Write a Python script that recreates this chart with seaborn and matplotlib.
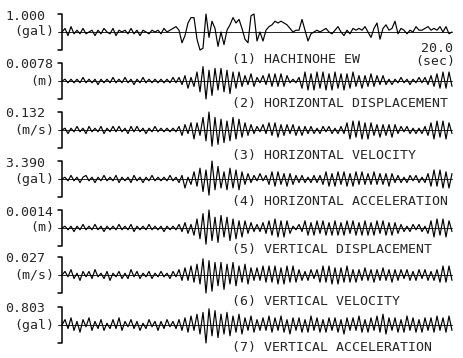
import numpy as np
import pandas as pd
import matplotlib
matplotlib.use("Agg")
import matplotlib.pyplot as plt
from matplotlib.lines import Line2D
import seaborn as sns

# ---------------- data (tenths of full scale, 131 samples over 20 s) ----------------
names = ["(1) HACHINOHE EW", "(2) HORIZONTAL DISPLACEMENT", "(3) HORIZONTAL VELOCITY",
         "(4) HORIZONTAL ACCELERATION", "(5) VERTICAL DISPLACEMENT", "(6) VERTICAL VELOCITY",
         "(7) VERTICAL ACCELERATION"]
scale_labels = ["1.000", "0.0078", "0.132", "3.390", "0.0014", "0.027", "0.803"]
unit_labels = ["(gal)", "(m)", "(m/s)", "(gal)", "(m)", "(m/s)", "(gal)"]
scales = [1.000, 0.0078, 0.132, 3.390, 0.0014, 0.027, 0.803]
duration = 20.0

hachinohe_ew = [0,2,-2,3,-1,1,-1,2,-1,0, 1,-2,1,-1,2,0,-1,2,-2,1, 0,1,-1,2,-1,1,-2,1,0,-1,
                1,0,1,-1,2,0,1,2,
                3,1,-6,-2,5,8,8,-4,-10,-9, 10,-3,6,2,-8,0,-7,1,4,8, 5,7,2,-4,-6,9,10,-5,0,-5,
                1,3,4,6,5,6,5,4,2,0, 1,1,7,1,-5,-1,0,1,0,1, 2,0,-1,1,3,0,-2,1,-1,2,
                1,2,1,3,0,-3,2,5,-4,2, 4,1,2,6,-1,2,1,-1,1,0, 3,1,1,2,3,1,2,1,3,0, 3,-1,0]
horiz_disp = [0,1,-1,1,-1,1,-1,2,-1,1, -1,1,-2,1,-1,1,-1,2,-1,1, -1,2,-1,1,-2,1,-1,2,-1,1,
              -1,1,-1,1,-1,1,-1,2,
              -1,2,-2,3,-4,2,-3,5,-6,8, -10,6,-8,7,-5,7,-6,6,-7,5, -4,5,-3,3,-2,4,-3,2,-1,3,
              -2,4,-3,
              4,-3,4,-3,3,-1,1,-1,2,-4, 5,-5,4,-5,5,-4,5,-5,4,-5, 5,-4,4,-5,4,-4,5,-3,3,-4,
              3,-3,4,-3,3,-2,3,-2,1,-2, 1,-1,2,-1,1,-2,1,-1,2,-1, 2,-2,3,-3,4,-4,5,-4,5,-3]
horiz_vel = [0,1,-2,1,-1,2,-1,1,-2,2, -1,1,-1,2,-2,1,-1,2,-1,2, -1,1,-2,2,-1,2,-1,1,-2,1,
             -1,2,-1,1,-1,1,-1,1,
             -1,2,-3,3,-2,4,-5,4,-3,7, -6,10,-9,7,-8,6,-7,5,-6,7, -5,6,-4,4,-3,3,-2,2,-1,3,
             -2,4,-3,
             4,-4,3,-3,3,-2,3,-3,2,-3, 2,-2,2,-2,1,-2,2,-1,2,-2, 1,-2,2,-2,
             4,-5,5,-4,5,-5,4,-5,4,
             -3,3,-4,3,-3,3,-4,3,-2,
             2,-1,2,-2,1,-2,1,-2,2,
             -3,4,-5,5,-4,5,-5,4,-2]
horiz_acc = [0,1,-1,2,-1,1,-2,1,2,-1, 1,-2,1,-1,2,-1,1,-1,2,-2, 1,-1,1,-2,2,-1,1,-2,1,-1,
             2,-1,1,-1,1,-1,2,-1,
             1,-2,2,-5,1,-3,4,-4,6,-7, 5,-9,10,-6,7,-5,4,-6,6,-5, 5,-6,4,-3,3,-2,2,-1,3,-1,
             2,-3,4,
             -4,4,-3,3,-4,3,-3,2,
             -2,2,-2,1,-2,2,-2,2,
             -3,4,-4,3,-4,4,-3,4,-4,3,-4,4,-3,4,-3,
             3,-3,4,-3,3,-3,3,-4,3,-2,
             2,-2,1,-2,2,-1,2,-2,1,-2,
             3,-4,5,-4,5,-5,4,-5,3]
vert_disp = [0,1,-1,1,-2,1,-1,2,-1,1, -1,2,-1,1,-2,1,-1,1,-1,2, -1,1,-1,2,-2,1,-1,1,-1,2,
             -1,1,-1,1,-2,1,-1,1,
             -1,2,-2,3,-3,2,-4,5,-6,8, -9,10,-7,6,-8,7,-5,6,-7,5, -6,4,-5,4,-3,3,-2,2,-2,3,
             -3,4,-4,
             5,-5,4,-5,4,-3,
             1,-1,2,-2,
             4,-4,3,-4,4,-3,4,-4,3,-4,4,-4,3,-4,4,-3,
             4,-4,3,-4,4,-4,3,-4,4,-3,4,-4,3,-4,3,-3,
             2,-2,1,-2,2,-1,2,-2,1,
             -3,4,-5,5,-4,5,-5,4,-2]
vert_vel = [0,2,-1,3,-2,1,-3,2,-1,2, -2,3,-1,1,-2,2,-3,1,-1,2, -2,1,-2,3,-1,2,-2,1,-1,2,
            -2,1,-1,2,-1,1,-2,2,
            -1,3,-3,4,-3,5,-4,6,-5,9, -10,8,-9,7,-6,7,-8,6,-5,7, -6,5,-4,6,-5,4,-3,4,-3,5,
            -4,5,-4,
            5,-5,4,-5,5,-4,5,-4,
            3,-3,2,-3,3,-2,3,
            -4,5,-4,5,-5,4,-5,4,-4,5,
            -4,3,-4,3,-3,4,-3,3,-4,3,-3,4,-3,3,-4,3,-3,
            3,-2,3,-3,2,-3,3,-2,3,-3,2,-3,3,
            -4,5,-4,5,-3]
vert_acc = [0,3,-2,4,-3,2,-4,3,-1,4, -3,2,-2,3,-3,1,-2,3,-2,4, -3,2,-1,3,-2,2,-3,1,-2,3,
            -1,2,-3,2,-2,3,-1,2,
            -2,3,-3,4,-4,5,-3,6,-5,7, -10,9,-6,8,-7,6,-5,7,-6,5, -4,6,-5,4,-3,5,-4,3,-3,4,
            -3,5,-4,
            4,-3,5,-4,3,-5,4,-3,4,-4, 3,-4,5,-3,4,-4,3,-4,4,-3, 4,-4,3,-5,4,-3,4,-3,5,-4,
            3,-4,4,-3,5,-4,6,-5,4,-3, 4,-4,3,-4,5,-3,4,-4,3,-4, 4,-3,4,-4,5,-3,4,-4,5,-3]

series = [hachinohe_ew, horiz_disp, horiz_vel, horiz_acc, vert_disp, vert_vel, vert_acc]

rows = []
for name, sc, vals in zip(names, scales, series):
    t = np.linspace(0, duration, len(vals))
    for ti, v in zip(t, vals):
        rows.append({"trace": name, "t": ti, "value": v / 10.0 * sc})
df = pd.DataFrame(rows)

# ---------------- figure ----------------
sns.set_style("white")
plt.rcParams["font.family"] = ["DejaVu Sans Mono", "DejaVu Sans"]

W, H = 464, 358
fig = plt.figure(figsize=(W / 100, H / 100), dpi=100)
fig.patch.set_facecolor("white")

def fx(x):
    return x / W

def fy(y):
    return 1 - y / H

centers = [32, 81, 130, 179, 228, 275, 325]
title_y = [60, 104, 155, 202, 250, 302, 348]
half = 18
x0, x1 = 62, 452
fs = 9.5

for i, (name, sc) in enumerate(zip(names, scales)):
    c = centers[i]
    ax = fig.add_axes([fx(x0), fy(c + half), (x1 - x0) / W, 2 * half / H])
    sub = df[df["trace"] == name]
    sns.lineplot(data=sub, x="t", y="value", ax=ax, color="black", linewidth=0.85,
                 legend=False, estimator=None, sort=False)
    for ln in ax.lines:
        ln.set_clip_on(False)
    ax.set_xlim(0, duration)
    ax.set_ylim(-sc, sc)
    ax.set_axis_off()
    # zero line and bracket (figure-level decorations)
    fig.add_artist(Line2D([fx(x0 - 4), fx(x1)], [fy(c), fy(c)], transform=fig.transFigure,
                          color="black", linewidth=0.6))
    fig.add_artist(Line2D([fx(x0 - 4), fx(x0), fx(x0), fx(x0 - 4)],
                          [fy(c + half), fy(c + half), fy(c - half), fy(c - half)],
                          transform=fig.transFigure, color="black", linewidth=1.1))
    # labels
    fig.text(fx(5), fy(c - 16), scale_labels[i], fontsize=fs, ha="left", va="center")
    fig.text(fx(54), fy(c), unit_labels[i], fontsize=fs, ha="right", va="center")
    fig.text(fx(232), fy(title_y[i]), name, fontsize=fs, ha="left", va="center")

fig.text(fx(453), fy(48), "20.0", fontsize=fs, ha="right", va="center")
fig.text(fx(455), fy(62), "(sec)", fontsize=fs, ha="right", va="center")

fig.savefig("out.png", dpi=100, facecolor="white")
